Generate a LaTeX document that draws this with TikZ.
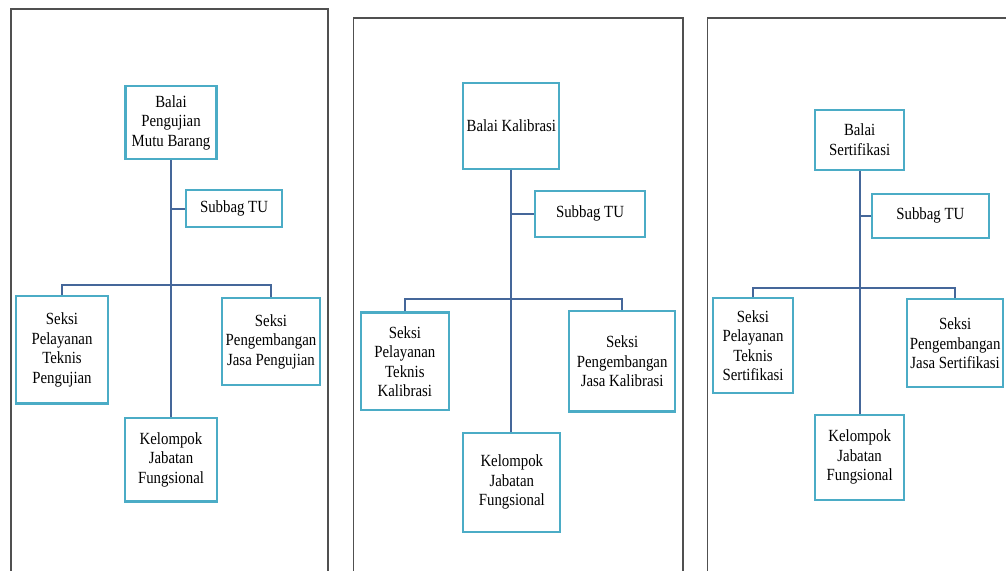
\documentclass[tikz,border=0pt]{standalone}
\usepackage{fontspec}
\setmainfont{Liberation Serif}[FakeStretch=0.87]
\usetikzlibrary{calc}

\definecolor{boxline}{HTML}{4BACC6}
\definecolor{linkblue}{HTML}{45679A}
\definecolor{framegray}{HTML}{505050}

\begin{document}
\begin{tikzpicture}[x=0.2mm, y=-0.2mm,
    unitbox/.style={draw=boxline, line width=1.15pt, fill=white, rectangle, inner sep=0pt, align=center,
        font=\fontsize{9.7}{11.1}\selectfont},
    boxsize/.style 2 args={minimum width=#1*0.2mm, minimum height=#2*0.2mm},
    linkline/.style={draw=linkblue, line width=1.15pt},
    frameline/.style={draw=framegray, line width=0.9pt}]

            \useasboundingbox (0,0) rectangle (1006,571);

            % Panel frames
            \draw[frameline] (11,571) -- (11,9) -- (328,9) -- (328,571);
            \draw[frameline] (353.3,571) -- (353.3,18.2) -- (683,18.2) -- (683,571);
            \draw[frameline] (707.3,571) -- (707.3,18.2) -- (1006,18.2);

            % Balai Pengujian Mutu Barang
            \node[unitbox, boxsize={91}{73}] (balaiA) at (171,122.5) {Balai\\Pengujian\\Mutu Barang};
            \node[unitbox, boxsize={96}{36.5}] (subbagA) at (234,208.7) {Subbag TU};
            \node[unitbox, boxsize={92}{107.5}] (pelayananA) at (62,349.75) {Seksi\\Pelayanan\\Teknis\\Pengujian};
            \node[unitbox, boxsize={98}{87}] (pengembanganA) at (271,341.5) {Seksi\\Pengembangan\\Jasa Pengujian};
            \node[unitbox, boxsize={92}{83.5}] (kelompokA) at (171,459.75) {Kelompok\\Jabatan\\Fungsional};

            \coordinate (barA) at ($(balaiA.south |- 0,285)$);
            \draw[linkline] (balaiA.south) -- (balaiA.south |- kelompokA.north);
            \draw[linkline] (subbagA.west) -- (subbagA.west -| balaiA.south);
            \draw[linkline] (pelayananA.north) |- (barA) -| (pengembanganA.north);

            % Balai Kalibrasi
            \node[unitbox, boxsize={96}{85.6}] (balaiB) at (511.3,125.8) {Balai Kalibrasi};
            \node[unitbox, boxsize={110}{45.7}] (subbagB) at (590,213.85) {Subbag TU};
            \node[unitbox, boxsize={88.3}{97.9}] (pelayananB) at (404.85,361.45) {Seksi\\Pelayanan\\Teknis\\Kalibrasi};
            \node[unitbox, boxsize={105.7}{100.1}] (pengembanganB) at (622.15,361.45) {Seksi\\Pengembangan\\Jasa Kalibrasi};
            \node[unitbox, boxsize={97}{99.1}] (kelompokB) at (511.8,482.15) {Kelompok\\Jabatan\\Fungsional};

            \coordinate (barB) at ($(balaiB.south |- 0,299.3)$);
            \draw[linkline] (balaiB.south) -- (balaiB.south |- kelompokB.north);
            \draw[linkline] (subbagB.west) -- (subbagB.west -| balaiB.south);
            \draw[linkline] (pelayananB.north) |- (barB) -| (pengembanganB.north);

            % Balai Sertifikasi
            \node[unitbox, boxsize={89.3}{59.7}] (balaiC) at (859.65,139.85) {Balai\\Sertifikasi};
            \node[unitbox, boxsize={117.3}{44.1}] (subbagC) at (930.35,215.75) {Subbag TU};
            \node[unitbox, boxsize={79.4}{95.4}] (pelayananC) at (753,345.6) {Seksi\\Pelayanan\\Teknis\\Sertifikasi};
            \node[unitbox, boxsize={96.3}{87.8}] (pengembanganC) at (955.15,343.2) {Seksi\\Pengembangan\\Jasa Sertifikasi};
            \node[unitbox, boxsize={89.3}{84.6}] (kelompokC) at (859.65,457.3) {Kelompok\\Jabatan\\Fungsional};

            \coordinate (barC) at ($(balaiC.south |- 0,287.7)$);
            \draw[linkline] (balaiC.south) -- (balaiC.south |- kelompokC.north);
            \draw[linkline] (subbagC.west) -- (subbagC.west -| balaiC.south);
            \draw[linkline] (pelayananC.north) |- (barC) -| (pengembanganC.north);
            \end{tikzpicture}
\end{document}
